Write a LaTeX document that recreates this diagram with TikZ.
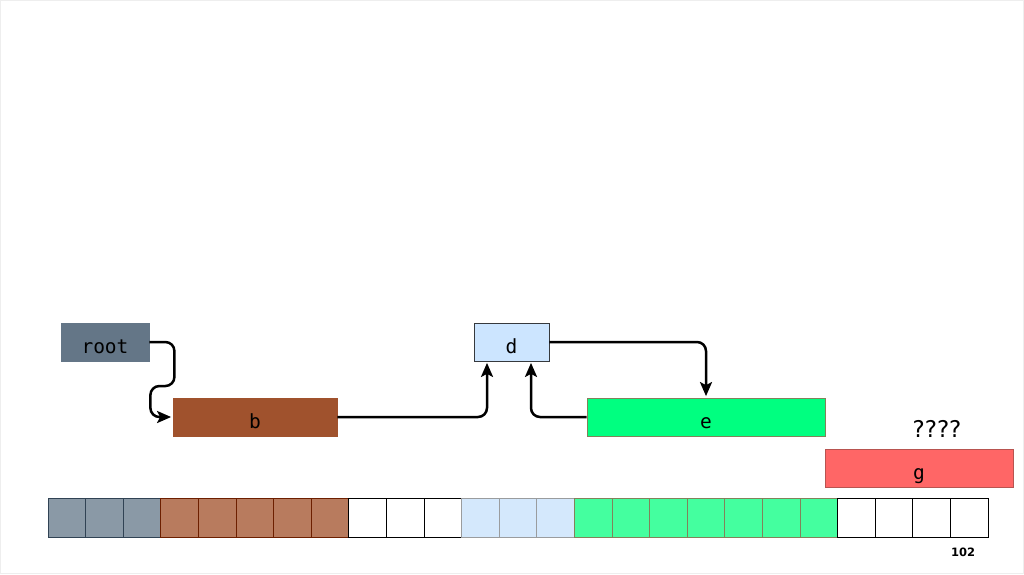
\documentclass[tikz,border=0pt]{standalone}
\usepackage{fontspec}
\setmainfont{DejaVu Sans}
\setmonofont{DejaVu Sans Mono}
\usetikzlibrary{arrows.meta}
\definecolor{slateF}{HTML}{647687}
\definecolor{slateD}{HTML}{314354}
\definecolor{siennaF}{HTML}{A0522D}
\definecolor{siennaD}{HTML}{6D1F00}
\definecolor{skyF}{HTML}{CCE5FF}
\definecolor{skyD}{HTML}{36393D}
\definecolor{mintF}{HTML}{00FF80}
\definecolor{mintD}{HTML}{82825A}
\definecolor{coralF}{HTML}{FF6666}
\definecolor{coralD}{HTML}{B85450}
\definecolor{cellGrey}{HTML}{8A99A6}
\definecolor{cellBrown}{HTML}{B87B5E}
\definecolor{cellSky}{HTML}{D4E8FC}
\definecolor{cellMint}{HTML}{44FF9F}
\definecolor{frameL}{HTML}{EEEEEE}

\begin{document}
\begin{tikzpicture}[x=1pt, y=-1pt,
    block/.style={draw, line width=0.8pt, minimum height=38pt, inner sep=0pt, text height=22pt, text depth=0pt, font=\fontsize{19.5}{21}\selectfont\ttfamily},
    cell/.style={draw, line width=1pt, minimum width=37.6pt, minimum height=39pt, inner sep=0pt},
    link/.style={-{Stealth[length=14pt,width=12pt,inset=3pt]}, line width=2.5pt, rounded corners=9pt, shorten >=1.5pt}
]
\useasboundingbox (0,0) rectangle (1024,574);
\draw[frameL] (0.5,0.5) rectangle (1023.5,573.5);

% ---- blocks ----
\node[block, fill=slateF, draw=slateF, minimum width=88pt] (root) at (105,342) {root};
\node[block, fill=siennaF, draw=siennaF, minimum width=164pt] (b) at (255,417) {b};
\node[block, fill=skyF, draw=skyD, minimum width=75pt] (d) at (511.5,342) {d};
\node[block, fill=mintF, draw=mintD, minimum width=238pt] (e) at (706,417) {e};
\node[block, fill=coralF, draw=coralD, minimum width=188pt] (g) at (919,468) {g};
\node[font=\fontsize{23}{25}\selectfont] (qq) at (937,429) {????};

% ---- links ----
\draw[link] (root.east) -- ++(25,0) -- ++(0,44) -- ++(-24,0) |- (b.west);
\draw[link] (b.east) -| ([xshift=-24.5pt]d.south);
\draw[link] (e.west) -| ([xshift=19.5pt]d.south);
\draw[link] (d.east) -| (e.north);

% ---- memory cells ----
\foreach \i/\f/\s in {1/cellGrey/slateD, 2/cellGrey/slateD, 3/cellGrey/slateD,
    4/cellBrown/siennaD, 5/cellBrown/siennaD, 6/cellBrown/siennaD, 7/cellBrown/siennaD, 8/cellBrown/siennaD,
    9/white/black, 10/white/black, 11/white/black,
    12/cellSky/skyD!50, 13/cellSky/skyD!50, 14/cellSky/skyD!50,
    15/cellMint/mintD, 16/cellMint/mintD, 17/cellMint/mintD, 18/cellMint/mintD, 19/cellMint/mintD, 20/cellMint/mintD, 21/cellMint/mintD,
    22/white/black, 23/white/black, 24/white/black, 25/white/black}
  \node[cell, fill=\f, draw=\s] (m\i) at ({48+37.6*(\i-0.5)},517.5) {};

\node[font=\fontsize{11.5}{13}\selectfont\bfseries] (page) at (963,552) {102};
\end{tikzpicture}
\end{document}
